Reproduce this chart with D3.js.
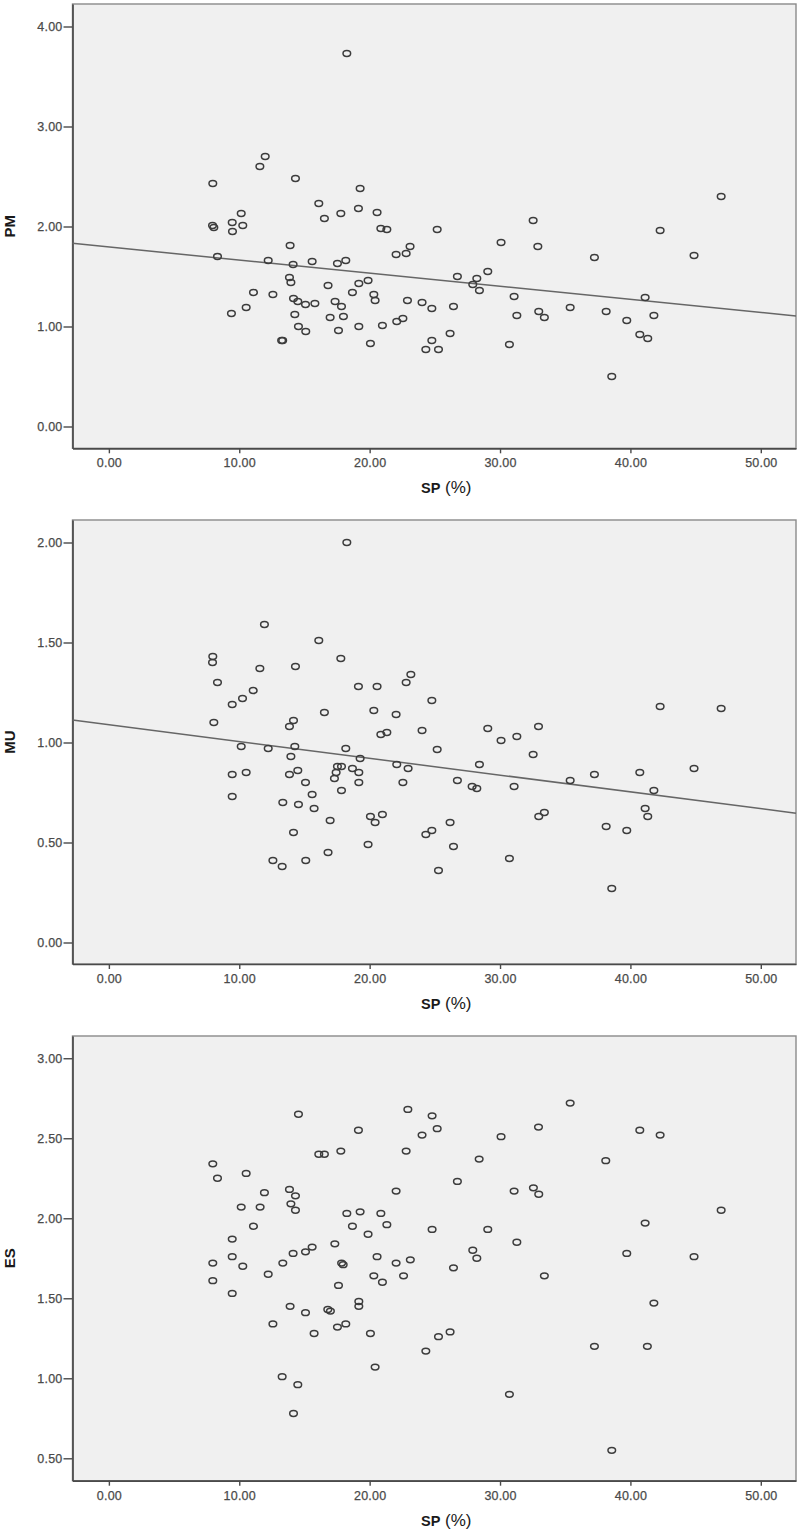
<!DOCTYPE html>
<html><head><meta charset="utf-8">
<script src="https://cdn.jsdelivr.net/npm/d3@7"></script>
<style>body{margin:0;background:#fff} svg{display:block}</style>
</head><body>
<svg id="chart" width="800" height="1535"></svg>
<script>
// ---------- data ----------
const xTicks = [0, 10, 20, 30, 40, 50];
const pmTicks = [0, 1, 2, 3, 4];
const muTicks = [0, 0.5, 1, 1.5, 2];
const esTicks = [0.5, 1, 1.5, 2, 2.5, 3];

const spPM = [18.25, 7.97, 11.99, 11.58, 14.31, 16.1, 19.27, 16.53, 17.79, 19.14,
  20.57, 20.86, 21.32, 7.95, 8.05, 9.46, 9.48, 10.15, 10.27, 13.9,
  46.96, 25.18, 32.54, 30.08, 32.9, 42.28, 23.1, 8.33, 12.22, 14.13,
  15.59, 17.53, 18.17, 22.03, 13.85, 13.96, 16.81, 19.17, 19.88, 11.09,
  12.58, 18.68, 20.32, 20.42, 14.16, 14.49, 15.08, 15.8, 17.35, 17.84,
  9.4, 10.53, 14.26, 16.97, 17.99, 14.54, 15.1, 17.61, 19.17, 20.98,
  22.08, 13.25, 13.33, 20.06, 37.24, 44.88, 22.8, 26.73, 28.22, 29.06,
  27.91, 28.42, 22.9, 24.02, 24.77, 26.43, 31.08, 31.29, 32.97, 33.4,
  35.38, 38.14, 39.72, 41.13, 41.8, 40.72, 41.33, 22.55, 24.77, 24.31,
  25.28, 26.17, 30.72, 38.57];
const pm = [3.73, 2.43, 2.70, 2.60, 2.48, 2.23, 2.38, 2.08, 2.13, 2.18,
  2.14, 1.98, 1.97, 2.01, 1.99, 2.04, 1.95, 2.13, 2.01, 1.81,
  2.30, 1.97, 2.06, 1.84, 1.80, 1.96, 1.80, 1.70, 1.66, 1.62,
  1.65, 1.63, 1.66, 1.72, 1.49, 1.44, 1.41, 1.43, 1.46, 1.34,
  1.32, 1.34, 1.32, 1.26, 1.28, 1.25, 1.22, 1.23, 1.25, 1.20,
  1.13, 1.19, 1.12, 1.09, 1.10, 1.00, 0.95, 0.96, 1.00, 1.01,
  1.05, 0.86, 0.86, 0.83, 1.69, 1.71, 1.73, 1.50, 1.48, 1.55,
  1.42, 1.36, 1.26, 1.24, 1.18, 1.20, 1.30, 1.11, 1.15, 1.09,
  1.19, 1.15, 1.06, 1.29, 1.11, 0.92, 0.88, 1.08, 0.86, 0.77,
  0.77, 0.93, 0.82, 0.50];

const spMU = [18.25, 11.93, 16.1, 7.97, 7.95, 11.58, 14.31, 17.79, 8.33, 11.07,
  10.25, 9.46, 19.14, 20.57, 16.53, 20.32, 22.03, 8.05, 14.16, 13.85,
  20.86, 21.32,
  23.16, 22.8, 24.77, 42.28, 46.96, 24.02, 29.06, 30.08, 31.29, 32.95, 25.18,
  10.15, 12.22, 14.26, 18.17, 13.96, 19.27, 22.08, 9.46, 10.53, 13.85,
  14.49, 17.53, 17.84, 17.43, 18.68, 19.17, 19.17, 17.3, 15.08, 17.84,
  9.46, 15.59, 13.34, 14.54, 15.74, 16.97, 20.06, 20.42, 20.98, 14.16,
  19.88, 16.81, 12.58, 15.1, 13.29,
  32.54, 28.42, 22.95, 44.88, 40.72, 37.24, 35.38, 26.73, 27.86, 28.22,
  31.08, 41.8, 22.55, 41.13, 41.33, 33.4, 32.97, 26.17, 38.14, 39.72,
  24.77, 24.31, 26.43, 30.72, 25.28, 38.57];
const mu = [2.00, 1.59, 1.51, 1.43, 1.40, 1.37, 1.38, 1.42, 1.30, 1.26,
  1.22, 1.19, 1.28, 1.28, 1.15, 1.16, 1.14, 1.10, 1.11, 1.08,
  1.04, 1.05,
  1.34, 1.30, 1.21, 1.18, 1.17, 1.06, 1.07, 1.01, 1.03, 1.08, 0.965,
  0.98, 0.97, 0.98, 0.97, 0.93, 0.92, 0.89, 0.84, 0.85, 0.84,
  0.86, 0.88, 0.88, 0.85, 0.87, 0.85, 0.80, 0.82, 0.80, 0.76,
  0.73, 0.74, 0.70, 0.69, 0.67, 0.61, 0.63, 0.60, 0.64, 0.55,
  0.49, 0.45, 0.41, 0.41, 0.38,
  0.94, 0.89, 0.87, 0.87, 0.85, 0.84, 0.81, 0.81, 0.78, 0.77,
  0.78, 0.76, 0.80, 0.67, 0.63, 0.65, 0.63, 0.60, 0.58, 0.56,
  0.56, 0.54, 0.48, 0.42, 0.36, 0.27];

const spES = [14.54, 19.14, 16.1, 16.53, 17.79, 7.97, 8.33, 10.53, 11.93, 13.85,
  14.31, 13.96, 14.31, 10.15, 11.6, 11.09, 18.25, 19.27, 20.86, 18.68,
  21.32, 19.88, 22.03, 9.46, 9.46, 10.27, 7.97, 12.22, 13.34, 14.13,
  15.08, 15.59, 17.33, 17.85, 17.97, 20.57, 22.03, 20.32, 7.97,
  35.38, 22.93, 24.79, 25.18, 24.02, 30.08, 32.95, 40.72, 42.28, 22.8,
  28.4, 38.11, 26.73, 31.08, 32.56, 32.97, 46.96, 41.13, 24.79, 29.06,
  31.29, 27.91, 28.22, 39.72, 44.88, 23.12, 26.43, 22.6, 33.4,
  20.98, 17.61, 9.46, 13.9, 15.08, 16.79, 16.99, 19.17, 19.17, 12.58,
  17.53, 18.17, 15.74, 20.06, 20.42, 13.29, 14.49, 14.16,
  41.8, 26.17, 25.28, 24.31, 37.24, 41.3, 30.72, 38.57];
const es = [2.65, 2.55, 2.40, 2.40, 2.42, 2.34, 2.25, 2.28, 2.16, 2.18,
  2.14, 2.09, 2.05, 2.07, 2.07, 1.95, 2.03, 2.04, 2.03, 1.95,
  1.96, 1.90, 2.17, 1.87, 1.76, 1.70, 1.72, 1.65, 1.72, 1.78,
  1.79, 1.82, 1.84, 1.72, 1.71, 1.76, 1.72, 1.64, 1.61,
  2.72, 2.68, 2.64, 2.56, 2.52, 2.51, 2.57, 2.55, 2.52, 2.42,
  2.37, 2.36, 2.23, 2.17, 2.19, 2.15, 2.05, 1.97, 1.93, 1.93,
  1.85, 1.80, 1.75, 1.78, 1.76, 1.74, 1.69, 1.64, 1.64,
  1.60, 1.58, 1.53, 1.45, 1.41, 1.43, 1.42, 1.48, 1.45, 1.34,
  1.32, 1.34, 1.28, 1.28, 1.07, 1.01, 0.96, 0.78,
  1.47, 1.29, 1.26, 1.17, 1.20, 1.20, 0.90, 0.55];

// linear fit lines: [intercept, slope]
const fitPM = [1.795, -0.0131];
const fitMU = [1.089, -0.0084];

// ---------- layout ----------
const left = 72.5, right = 796;
const xDomain = [-2.79, 52.7];
const panels = [
  {label: "PM", sp: spPM, val: pm, ticks: pmTicks, domain: [-0.218, 4.225], top: 4, bottom: 448.3, fit: fitPM},
  {label: "MU", sp: spMU, val: mu, ticks: muTicks, domain: [-0.1075, 2.1125], top: 520, bottom: 964, fit: fitMU},
  {label: "ES", sp: spES, val: es, ticks: esTicks, domain: [0.36, 3.139], top: 1036, bottom: 1480.7, fit: null}
];

const svg = d3.select("#chart");
const x = d3.scaleLinear().domain(xDomain).range([left, right]);
const fmt = d3.format(".2f");
const tickFont = "'Liberation Sans', Arial, sans-serif";

panels.forEach(p => {
  const y = d3.scaleLinear().domain(p.domain).range([p.bottom, p.top]);
  const g = svg.append("g");

  g.append("rect")
    .attr("x", left).attr("y", p.top)
    .attr("width", right - left).attr("height", p.bottom - p.top)
    .attr("fill", "#f0f0f0").attr("stroke", "#8a8a8a").attr("stroke-width", 1.4);

  // x axis
  const xa = g.append("g").attr("transform", `translate(0,${p.bottom})`)
    .call(d3.axisBottom(x).tickValues(xTicks).tickFormat(fmt).tickSize(5).tickPadding(5).tickSizeOuter(0));
  // y axis
  const ya = g.append("g").attr("transform", `translate(${left},0)`)
    .call(d3.axisLeft(y).tickValues(p.ticks).tickFormat(fmt).tickSize(9).tickPadding(1).tickSizeOuter(0));
  [xa, ya].forEach(a => {
    a.select(".domain").attr("stroke", "#4a4a4a").attr("stroke-width", 1.7);
    a.selectAll(".tick line").attr("stroke", "#4a4a4a").attr("stroke-width", 1.4);
    a.selectAll(".tick text").attr("fill", "#4a4a4a")
      .attr("stroke", "#4a4a4a").attr("stroke-width", 0.25)
      .style("font-family", tickFont).style("font-size", "12.5px").style("letter-spacing", "0.2px");
  });

  // fit line
  if (p.fit) {
    const f = v => p.fit[0] + p.fit[1] * v;
    g.append("line")
      .attr("x1", x(xDomain[0])).attr("y1", y(f(xDomain[0])))
      .attr("x2", x(xDomain[1])).attr("y2", y(f(xDomain[1])))
      .attr("stroke", "#666").attr("stroke-width", 1.5);
  }

  // points
  g.append("g").selectAll("ellipse")
    .data(p.sp.map((s, i) => [s, p.val[i]]))
    .join("ellipse")
    .attr("cx", d => x(d[0])).attr("cy", d => y(d[1]))
    .attr("rx", 3.8).attr("ry", 2.9)
    .attr("fill", "none").attr("stroke", "#3c3c3c").attr("stroke-width", 1.5);

  // y title
  const cy = (p.top + p.bottom) / 2;
  g.append("text")
    .attr("transform", `translate(15,${cy}) rotate(-90)`)
    .attr("text-anchor", "middle")
    .style("font-family", "'Liberation Sans', Arial, sans-serif")
    .style("font-weight", "bold").style("font-size", "15px").attr("fill", "#1a1a1a")
    .text(p.label);

  // x title
  const t = g.append("text").attr("x", 421).attr("y", p.bottom + 45)
    .style("font-family", "'Liberation Sans', Arial, sans-serif").attr("fill", "#1a1a1a");
  t.append("tspan").style("font-weight", "bold").style("font-size", "14.5px").text("SP");
  t.append("tspan").style("font-size", "17px").text(" (%)");
});
</script>
</body></html>
